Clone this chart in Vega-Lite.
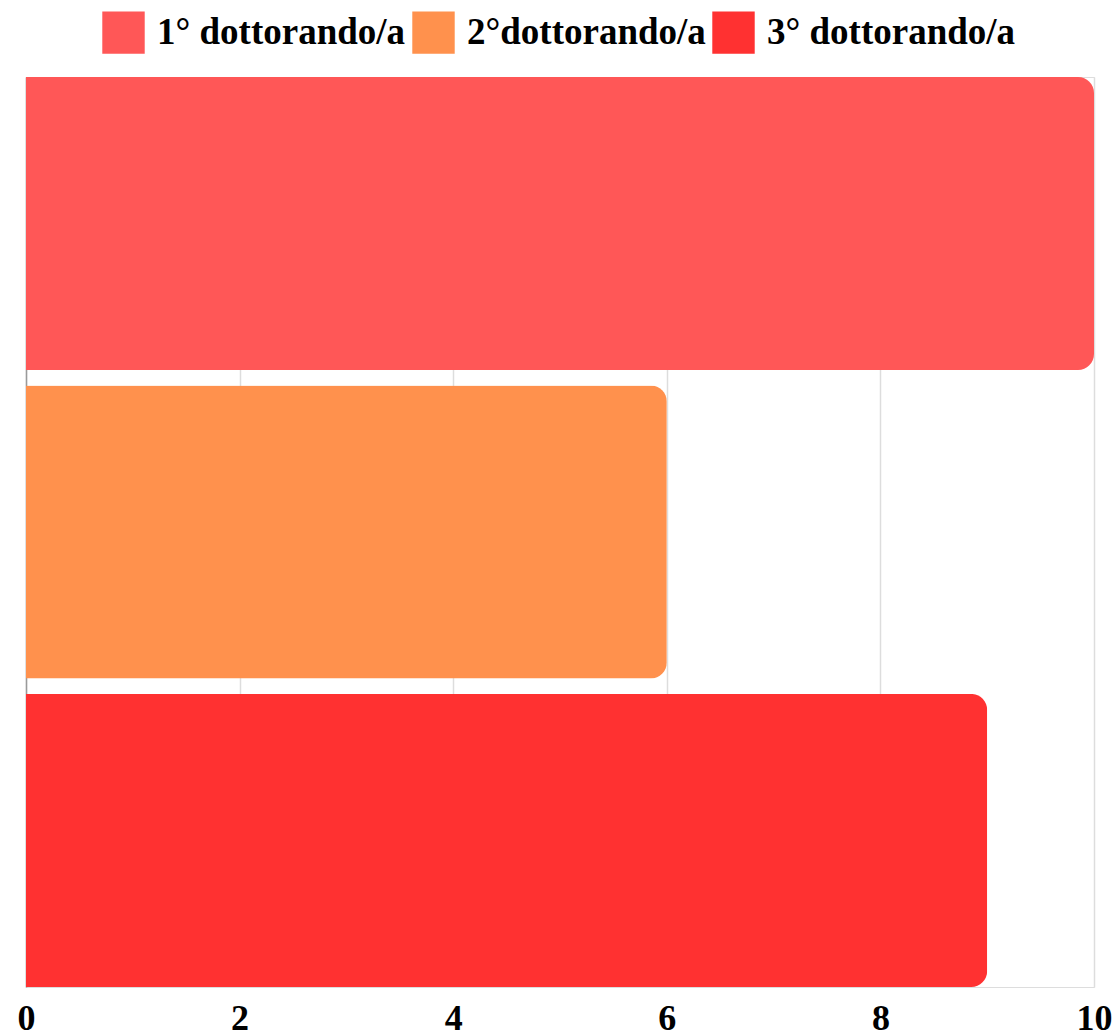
{
  "$schema": "https://vega.github.io/schema/vega-lite/v6.json",
  "autosize": "none",
  "width": 1068,
  "height": 910,
  "padding": {"left": 26, "top": 77, "right": 23, "bottom": 49},
  "background": "white",
  "data": {"values": [
    {"cat": "1° dottorando/a", "v": 10},
    {"cat": "2°dottorando/a", "v": 6},
    {"cat": "3° dottorando/a", "v": 9}
  ]},
  "mark": {"type": "bar", "cornerRadiusEnd": 16},
  "encoding": {
    "y": {
      "field": "cat", "type": "nominal", "sort": null,
      "scale": {"paddingInner": 0.05, "paddingOuter": 0},
      "axis": {"title": null, "labels": false, "ticks": false, "domain": true, "domainColor": "#9a9a9a", "domainWidth": 1.5, "grid": false}
    },
    "x": {
      "field": "v", "type": "quantitative",
      "scale": {"domain": [0, 10], "nice": false},
      "axis": {
        "title": null, "values": [0, 2, 4, 6, 8, 10], "ticks": false, "domain": false,
        "grid": true, "gridColor": "#dddddd", "gridWidth": 1.5,
        "labelFont": "Liberation Serif", "labelFontWeight": "bold", "labelFontSize": 36,
        "labelColor": "#000000", "labelPadding": 14, "labelFlush": false
      }
    },
    "color": {
      "field": "cat", "type": "nominal",
      "scale": {"domain": ["1° dottorando/a", "2°dottorando/a", "3° dottorando/a"], "range": ["#FF5757", "#FF914D", "#FF3131"]},
      "legend": {
        "title": null, "orient": "none", "direction": "horizontal",
        "legendX": 76, "legendY": -66,
        "symbolType": "square", "symbolSize": 1800, "symbolStrokeWidth": 0, "symbolOpacity": 1,
        "labelFont": "Liberation Serif", "labelFontWeight": "bold", "labelFontSize": 37,
        "labelColor": "#000000", "labelLimit": 400, "labelOffset": 12, "columnPadding": 6
      }
    }
  }
}
